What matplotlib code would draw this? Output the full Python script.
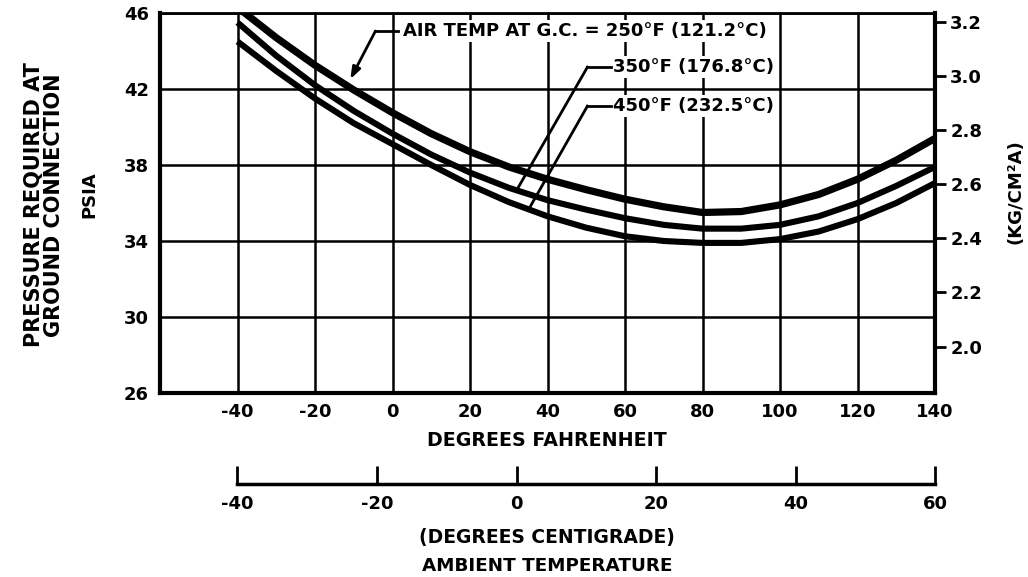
import numpy as np
import matplotlib
matplotlib.use('Agg')
import matplotlib.pyplot as plt

plt.rcParams['font.family'] = ['DejaVu Sans']
plt.rcParams['font.weight'] = 'bold'
plt.rcParams['axes.unicode_minus'] = False

# ambient temperature, deg F
temp_f = [-40, -30, -20, -10, 0, 10, 20, 30, 40, 50, 60, 70, 80, 90, 100, 110, 120, 130, 140]
# pressure required at ground connection, psia
p_250 = [46.3, 44.7, 43.25, 41.95, 40.75, 39.65, 38.7, 37.9, 37.25, 36.7, 36.2, 35.8, 35.5, 35.55, 35.9, 36.45, 37.25, 38.25, 39.4]
p_350 = [45.5, 43.75, 42.2, 40.85, 39.65, 38.55, 37.6, 36.8, 36.15, 35.65, 35.2, 34.85, 34.65, 34.65, 34.85, 35.3, 36.0, 36.9, 37.9]
p_450 = [44.5, 42.95, 41.5, 40.2, 39.1, 38.0, 36.95, 36.05, 35.3, 34.7, 34.25, 34.0, 33.9, 33.9, 34.1, 34.5, 35.15, 36.0, 37.05]

psi_ticks = [26, 30, 34, 38, 42, 46]
f_ticks = [-40, -20, 0, 20, 40, 60, 80, 100, 120, 140]
kg_ticks = [2.0, 2.2, 2.4, 2.6, 2.8, 3.0, 3.2]
c_ticks = [-40, -20, 0, 20, 40, 60]
PSI_TO_KG = 0.070307

W, H = 1028, 577
fig = plt.figure(figsize=(W / 100, H / 100), dpi=100)
L, R, T, B = 160, 935, 13, 393
ax = fig.add_axes([L / W, 1 - B / H, (R - L) / W, (B - T) / H])

ax.set_xlim(-60, 140)
ax.set_ylim(26, 46)
ax.set_xticks(f_ticks)
ax.set_yticks(psi_ticks)
ax.grid(True, color='black', linewidth=1.8)
ax.set_axisbelow(True)
ax.tick_params(axis='both', length=0, labelsize=13)
ax.tick_params(axis='x', pad=7)
ax.tick_params(axis='y', pad=8)
for s in ['left', 'bottom', 'right']:
    ax.spines[s].set_linewidth(3)
ax.spines['top'].set_linewidth(2)

for vals, lw in [(p_250, 5.2), (p_350, 4.4), (p_450, 4.4)]:
    ax.plot(temp_f, vals, color='black', linewidth=lw, solid_capstyle='butt',
            solid_joinstyle='round', zorder=3)

# right axis in kg/cm2
ax_r = ax.twinx()
ax_r.set_ylim(26 * PSI_TO_KG, 46 * PSI_TO_KG)
ax_r.set_yticks(kg_ticks)
ax_r.set_yticklabels(['%.1f' % v for v in kg_ticks])
ax_r.tick_params(axis='y', direction='out', length=8, width=2, labelsize=13, pad=3)
for s in ax_r.spines.values():
    s.set_visible(False)
fig.text(1016 / W, 1 - 192 / H, '(KG/CM²A)', rotation=90, ha='center', va='center', fontsize=13)

# curve labels
box = dict(facecolor='white', edgecolor='none', pad=1.5)
ax.text(2.6, 45.05, 'AIR TEMP AT G.C. = 250°F (121.2°C)', fontsize=13, va='center', ha='left', bbox=box, zorder=4)
ax.plot([-4.4, 1.5], [45.05, 45.05], color='black', linewidth=2, zorder=4)
ax.annotate('', xy=(-10.9, np.interp(-10.9, temp_f, p_250) + 0.45), xytext=(-4.4, 45.05),
            arrowprops=dict(arrowstyle='-|>,head_length=0.7,head_width=0.25', color='black', linewidth=2, shrinkA=0, shrinkB=0), zorder=4)

ax.text(57, 43.15, '350°F (176.8°C)', fontsize=13, va='center', ha='left', bbox=box, zorder=4)
ax.plot([50.3, 56.3], [43.15, 43.15], color='black', linewidth=2, zorder=4)
ax.plot([50.3, 32.5], [43.15, np.interp(32.5, temp_f, p_350) + 0.2], color='black', linewidth=2, zorder=4)

ax.text(57, 41.1, '450°F (232.5°C)', fontsize=13, va='center', ha='left', bbox=box, zorder=4)
ax.plot([50.3, 56.3], [41.1, 41.1], color='black', linewidth=2, zorder=4)
ax.plot([50.3, 35.6], [41.1, np.interp(35.6, temp_f, p_450) + 0.2], color='black', linewidth=2, zorder=4)

# left labels
fig.text(34 / W, 1 - 205 / H, 'PRESSURE REQUIRED AT', rotation=90,
         ha='center', va='center', fontsize=15)
fig.text(54 / W, 1 - 205 / H, 'GROUND CONNECTION', rotation=90,
         ha='center', va='center', fontsize=15)
fig.text(89 / W, 1 - 195 / H, 'PSIA', rotation=90, ha='center', va='center', fontsize=13)

# centigrade scale
x0 = L + (R - L) * 20 / 200
ax_c = fig.add_axes([x0 / W, 1 - 484 / H, (R - x0) / W, 0.001])
ax_c.set_xlim(-40, 60)
ax_c.set_xticks(c_ticks)
ax_c.set_yticks([])
for s in ['left', 'right', 'top']:
    ax_c.spines[s].set_visible(False)
ax_c.spines['bottom'].set_linewidth(2.5)
ax_c.patch.set_visible(False)
ax_c.tick_params(axis='x', direction='in', length=13, width=2, labelsize=13, pad=8)

fig.text(547 / W, 1 - 441 / H, 'DEGREES FAHRENHEIT', ha='center', va='center', fontsize=13.7)
fig.text(547 / W, 1 - 537 / H, '(DEGREES CENTIGRADE)', ha='center', va='center', fontsize=13.5)
fig.text(547 / W, 1 - 566 / H, 'AMBIENT TEMPERATURE', ha='center', va='center', fontsize=13.2)

fig.savefig('out.png', dpi=100)
